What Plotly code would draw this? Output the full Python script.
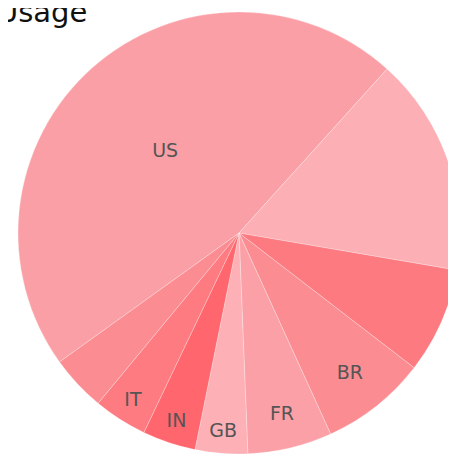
import plotly.graph_objects as go

labels = ["US", "DE", "CN", "BR", "FR", "GB", "IN", "IT", "JP"]
shown_text = ["US", "", "", "BR", "FR", "GB", "IN", "IT", ""]
values = [46.6, 16.0, 7.75, 7.75, 6.17, 3.83, 3.89, 3.92, 4.08]
colors = ["#FA9FA5", "#FCAFB4", "#FD7A80", "#FB8C92", "#FBA0A6",
          "#FDB0B5", "#FF666D", "#FD7B81", "#FB8C92"]

fig = go.Figure(go.Pie(
    labels=labels,
    values=values,
    text=shown_text,
    textinfo="text",
    textposition="inside",
    insidetextorientation="horizontal",
    sort=False,
    direction="clockwise",
    rotation=234.3,
    marker=dict(colors=colors, line=dict(color="rgba(255,255,255,0.45)", width=0.6)),
    textfont=dict(family="DejaVu Sans", size=19, color="#555555"),
    showlegend=False,
    hoverinfo="label+percent",
))

fig.add_annotation(
    text="Usage", xref="paper", yref="paper", x=-0.052, y=1.0,
    xanchor="left", yanchor="bottom", yshift=-19, showarrow=False,
    font=dict(family="DejaVu Sans", size=29, color="#111111"),
)

fig.update_layout(
    width=460, height=460,
    margin=dict(l=10, r=8, t=4, b=14),
    paper_bgcolor="white",
    plot_bgcolor="white",
)

fig.write_html("out.html")
